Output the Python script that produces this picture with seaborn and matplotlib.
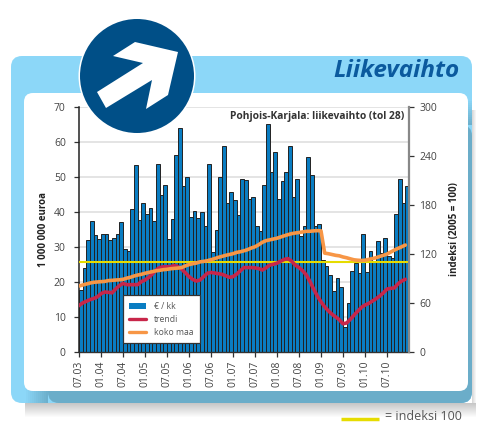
import numpy as np
import pandas as pd
import seaborn as sns
import matplotlib.pyplot as plt
from matplotlib.patches import FancyBboxPatch, Circle, Polygon, Patch, Rectangle
from matplotlib.lines import Line2D

# liikevaihto, 1 000 000 euroa / kk (07.03 - 12.10)
euroa = [17.5, 24, 32, 37.4, 33.3, 32.2, 33.5, 33.7, 31.8, 32.5, 33.5, 37.1, 29.4, 28.9, 40.9,
         53.4, 37.7, 42.6, 39.3, 41, 37.4, 53.6, 44.8, 47.8, 32.2, 37.9, 56.4, 64.1, 47.5, 49.9,
         38.5, 40.1, 38.2, 39.8, 35.8, 53.8, 28.5, 34.8, 49.9, 58.7, 42.4, 45.8, 43.5, 39.1, 49.3,
         49.1, 43.7, 44.1, 36, 34.6, 47.8, 65.2, 51.5, 57.2, 43.6, 48.9, 51.4, 58.7, 44.3, 49.4,
         33, 36, 55.7, 50.5, 36, 36.5, 26.2, 24.5, 21.9, 17.2, 21, 18.6, 7, 14, 23,
         25.3, 22.4, 33.7, 22.8, 28.7, 26, 31.7, 28.3, 32.4, 27.4, 26.7, 39.4, 49.5, 42.4, 47.5]
trendi = [56.3, 59.6, 61.6, 63.6, 65, 67, 71, 73, 72.6, 72, 76.7, 80.8, 83.6, 82, 82,
          82, 82, 85.7, 87.7, 91, 95, 100, 103, 104, 104, 104, 105.7, 104, 100.8, 96.7,
          91.8, 88.5, 86.5, 87.7, 91.8, 96, 97, 96.3, 95.5, 94.7, 93, 91, 91.8, 95, 99,
          103, 103, 103, 102.6, 101.8, 100, 102.6, 106, 107, 108.4, 110.8, 113, 114, 110.8, 106,
          103, 99, 94, 85.7, 76.6, 68, 61, 54.8, 49.9, 45.7, 42.4, 39, 34, 35, 39.5,
          44.5, 49.4, 54, 57, 59, 61.8, 64.7, 68, 72, 76.6, 77.5, 78, 83, 86.5, 88.6]
koko_maa = [80.4, 81.6, 82.8, 84, 84.9, 85.3, 85.7, 86, 87, 87.3, 87.7, 88, 88.5, 90, 91,
            92.6, 93.8, 94.7, 96, 97, 98, 99, 99.6, 100.4, 100.8, 101.6, 102, 102.4, 103, 105,
            106.6, 107.7, 108.5, 110, 110.6, 111.4, 112.6, 114, 115.5, 116.7, 118, 119, 120, 121.6, 122.4,
            123.6, 125, 127, 128.5, 131, 134, 136, 137, 138, 139, 140.5, 142, 143.4, 144.6, 145.4,
            146, 146.7, 147.5, 147.5, 148, 148.3, 148, 120.7, 120, 119, 118, 117.4, 116, 115, 113.7,
            112.5, 112, 111.7, 112, 113, 114, 115, 116.6, 118, 119.5, 122, 124.4, 126.5, 128.5, 130.6]
viiva_100 = 110

kuukaudet = list(range(90))
tick_labels = ["07.03", "01.04", "07.04", "01.05", "07.05", "01.06", "07.06", "01.07",
               "07.07", "01.08", "07.08", "01.09", "07.09", "01.10", "07.10"]
left_ticks = [0, 10, 20, 30, 40, 50, 60, 70]
right_ticks = [0, 60, 120, 180, 240, 300]

sns.set_theme(style="white")
plt.rcParams['font.family'] = ['Open Sans', 'DejaVu Sans']

W, H = 480, 423
fig = plt.figure(figsize=(W / 100, H / 100), dpi=100, facecolor="white")

# tausta pikseleissä
bg = fig.add_axes([0, 0, 1, 1], zorder=0)
bg.set_xlim(0, W)
bg.set_ylim(H, 0)
bg.axis("off")


def strip(x, y, w, h, color, alpha=1.0, zorder=1):
    bg.add_patch(Rectangle((x, y), w, h, fc=color, ec="none", lw=0, alpha=alpha,
                           antialiased=False, zorder=zorder))


# harmaa varjo paneelin alla ja oikealla
for k, g in enumerate(np.linspace(0.78, 1.0, 15)):
    strip(25, 403 + k, 451, 1, (g, g, g))
for k, g in enumerate(np.linspace(0.85, 1.0, 5)):
    strip(472 + k, 110, 1, 293, (g, g, g))

varjo = (0.42, 0.68, 0.79)
bg.add_patch(FancyBboxPatch((11, 56), 461, 347, boxstyle="round,pad=0,rounding_size=11",
                            fc="#8CD7F8", ec="none", zorder=2))
# valkoisen alueen varjo paneelilla
bg.add_patch(FancyBboxPatch((48, 125), 424, 278, boxstyle="round,pad=0,rounding_size=11",
                            fc=varjo, ec="none", zorder=2.2))
for k in range(11):
    strip(26 + k * 2, 385, 2, 18, varjo, alpha=(k + 1) / 12, zorder=2.3)
for k in range(12):
    strip(460, 101 + k * 2, 12, 2, varjo, alpha=(k + 1) / 13, zorder=2.3)
bg.add_patch(FancyBboxPatch((24, 93), 444, 298, boxstyle="round,pad=0,rounding_size=9",
                            fc="white", ec="none", zorder=3))

bg.text(460, 71, "Liikevaihto", ha="right", va="center", fontsize=17.5, fontweight="bold",
        fontstyle="italic", color="#0B5A9E", zorder=4)
bg.plot([341, 379], [419, 419], color="#E6DC00", lw=2.5, solid_capstyle="butt", zorder=4)
bg.text(462, 417, "= indeksi 100", ha="right", va="center", fontsize=9, color="#555555", zorder=4)

# kaavio
ax = fig.add_axes([79 / W, 1 - 351.5 / H, 330 / W, 244.5 / H], zorder=1)
ax.patch.set_alpha(0)
df = pd.DataFrame({"kk": kuukaudet, "euroa": euroa})
ax.grid(True, color="#DDDDDD", lw=1.1)
ax.set_axisbelow(True)
sns.barplot(data=df, x="kk", y="euroa", color="#0A7DC2", saturation=1, width=0.95,
            edgecolor="#222222", linewidth=0.7, ax=ax)
ax.set_xlim(-0.5, 89.5)
ax.set_ylim(0, 70)
ax.set_xticks(np.arange(len(tick_labels)) * 6 - 0.5)
ax.set_xticklabels(tick_labels, rotation=90, fontsize=7.5, color="#444444")
ax.set_yticks(left_ticks)
ax.set_yticklabels(left_ticks, fontsize=7.5, color="#444444")
ax.tick_params(axis="x", length=3.5, width=0.9, color="#333333", bottom=True, pad=3)
ax.tick_params(axis="y", length=3.5, width=0.9, color="#333333", left=True, pad=6)
ax.set_xlabel("")
ax.set_ylabel("1 000 000 euroa", fontsize=7, fontweight="bold", color="#222222")
ax.yaxis.set_label_coords(-0.09, 0.5)
for s in ["top", "right"]:
    ax.spines[s].set_visible(False)
ax.spines["left"].set_color("#222222")
ax.spines["left"].set_linewidth(1.1)
ax.spines["bottom"].set_color("#333333")
ax.spines["bottom"].set_linewidth(1)
ax.text(0.985, 0.962, "Pohjois-Karjala: liikevaihto (tol 28)", transform=ax.transAxes, ha="right",
        va="center", fontsize=7.4, fontweight="bold", color="#333333", zorder=5)

ax2 = ax.twinx()
ax2.set_ylim(0, 300)
ax2.axhline(viiva_100, color="#E6DC00", lw=1.5, zorder=2)
x_line = np.array(kuukaudet) - 0.5
sns.lineplot(x=x_line, y=trendi, color="#C8264A", lw=2.6, ax=ax2, zorder=3, legend=False)
sns.lineplot(x=x_line, y=koko_maa, color="#F79646", lw=2.6, ax=ax2, zorder=4, legend=False)
ax2.set_xlim(-0.5, 89.5)
ax2.set_yticks(right_ticks)
ax2.set_yticklabels(right_ticks, fontsize=7.5, color="#444444")
ax2.tick_params(axis="y", length=3.5, width=0.9, color="#333333", right=True, pad=4)
ax2.set_ylabel("indeksi (2005 = 100)", fontsize=7, fontweight="bold", color="#222222")
ax2.yaxis.set_label_coords(1.12, 0.5)
for s in ["top", "left", "bottom"]:
    ax2.spines[s].set_visible(False)
ax2.spines["right"].set_color("#888888")
ax2.spines["right"].set_linewidth(1.6)

handles = [Patch(fc="#0A7DC2", ec="none"),
           Line2D([], [], color="#C8264A", lw=2.4),
           Line2D([], [], color="#F79646", lw=2.4)]
leg = ax2.legend(handles, ["€ / kk", "trendi", "koko maa"], loc="lower left",
                 bbox_to_anchor=((122.5 - 79) / 330, (351.5 - 343) / 244.5), fontsize=6.2,
                 frameon=True, fancybox=False, framealpha=1, facecolor="white", edgecolor="#333333",
                 handlelength=2.0, labelspacing=0.45, borderpad=0.75, handletextpad=0.9, borderaxespad=0)
leg.get_frame().set_linewidth(0.9)
for t in leg.get_texts():
    t.set_color("#555555")

# merkki
fg = fig.add_axes([0, 0, 1, 1], zorder=5)
fg.set_xlim(0, W)
fg.set_ylim(H, 0)
fg.axis("off")
fg.add_patch(Circle((137, 76), 58.5, fc="white", ec="none"))
fg.add_patch(Circle((137, 76), 57, fc="#004F87", ec="none"))
fg.add_patch(Polygon([(178, 52), (135, 42), (113, 56), (143, 63), (97, 92), (106, 108),
                      (152, 80), (146, 109), (168, 95)], closed=True, fc="white", ec="none"))

fig.savefig("out.png", dpi=100)
